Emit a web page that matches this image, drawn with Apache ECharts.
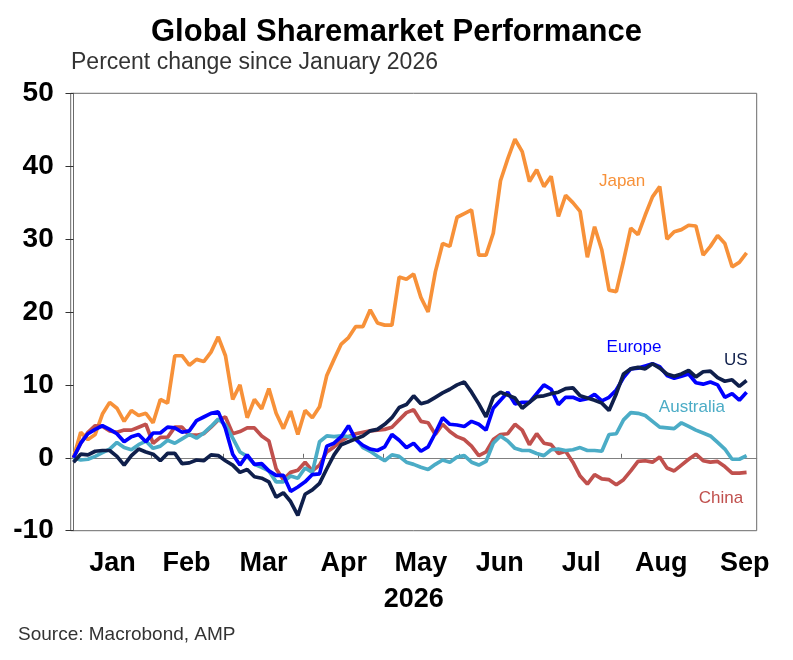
<!DOCTYPE html>
<html>
<head>
<meta charset="utf-8">
<script src="https://cdn.jsdelivr.net/npm/echarts@6/dist/echarts.min.js"></script>
<style>
  html, body { margin: 0; padding: 0; background: #fff; }
  #chart { width: 793px; height: 660px; }
</style>
</head>
<body>
<div id="chart"></div>
<script>
// trading day number since 31 Dec 2025 (sampled every second trading day)
var days = [0, 2, 4, 6, 8, 10, 12, 14, 16, 18,
  20, 22, 24, 26, 28, 30, 32, 34, 36, 38,
  40, 42, 44, 46, 48, 50, 52, 54, 56, 58,
  60, 62, 64, 66, 68, 70, 72, 74, 76, 78,
  80, 82, 84, 86, 88, 90, 92, 94, 96, 98,
  100, 102, 104, 106, 108, 110, 112, 114, 116, 118,
  120, 122, 124, 126, 128, 130, 132, 134, 136, 138,
  140, 142, 144, 146, 148, 150, 152, 154, 156, 158,
  160, 162, 164, 166, 168, 170, 172, 174, 176, 178,
  180, 182, 184, 186];

var japan = [0, 3.5, 2.5, 3.2, 6.0, 7.6, 6.8, 5.0, 6.5, 5.8,
  6.1, 4.8, 8.0, 7.5, 14.0, 14.0, 12.7, 13.5, 13.2, 14.5,
  16.6, 14.0, 8.0, 10.0, 5.5, 8.0, 6.7, 9.5, 6.1, 4.0,
  6.4, 3.2, 6.5, 5.5, 7.0, 11.3, 13.5, 15.6, 16.5, 18.0,
  18.0, 20.3, 18.5, 18.2, 18.2, 24.8, 24.5, 25.2, 22.0, 20.0,
  25.5, 29.4, 29.0, 33.0, 33.5, 34.0, 27.8, 27.8, 30.8, 38.0,
  41.0, 43.7, 42.0, 37.9, 39.5, 37.2, 38.6, 33.1, 36.0, 35.0,
  33.8, 27.5, 31.7, 28.5, 23.0, 22.8, 27.0, 31.5, 30.6, 33.3,
  35.8, 37.2, 30.0, 31.0, 31.3, 31.9, 31.8, 27.8, 29.0, 30.5,
  29.4, 26.2, 26.8, 28.1];

var us = [-0.6, 0.5, 0.4, 0.9, 1.0, 1.0, 0.2, -1.0, 0.3, 1.2,
  0.8, 0.5, -0.4, 0.6, 0.6, -0.8, -0.7, -0.3, -0.4, 0.4,
  0.3, -0.4, -1.0, -2.0, -1.6, -2.6, -2.8, -3.3, -5.4, -4.8,
  -6.0, -7.9, -5.0, -4.4, -3.5, -1.5, 0.4, 1.8, 2.2, 2.6,
  3.0, 3.7, 3.9, 4.6, 5.5, 6.9, 7.3, 8.5, 7.4, 7.7,
  8.3, 8.9, 9.4, 10.0, 10.4, 9.0, 7.4, 5.6, 8.3, 9.0,
  8.6, 8.2, 6.8, 7.6, 8.4, 8.5, 8.8, 9.0, 9.5, 9.6,
  8.5, 8.2, 7.9, 7.5, 6.5, 8.8, 11.5, 12.2, 12.4, 12.2,
  12.9, 12.3, 11.5, 11.2, 11.5, 12.0, 11.1, 11.8, 11.9, 11.0,
  10.5, 10.7, 9.8, 10.6];

var europe = [0, 2.0, 3.3, 3.9, 4.4, 3.9, 3.3, 2.2, 2.9, 3.2,
  2.2, 3.4, 3.4, 4.2, 4.1, 3.5, 3.7, 5.1, 5.6, 6.1,
  6.3, 4.0, 0.5, -1.0, 0.4, -0.9, -0.8, -1.8, -2.4, -2.4,
  -4.6, -4.0, -3.3, -2.3, -2.2, 1.6, 2.0, 2.9, 4.4, 2.5,
  1.7, 1.2, 1.0, 1.5, 3.2, 2.4, 1.4, 2.0, 0.9, 1.5,
  3.4, 5.5, 4.6, 4.5, 4.3, 5.0, 4.6, 3.8, 6.8, 7.9,
  9.0, 7.4, 7.6, 7.6, 8.8, 10.0, 9.4, 7.3, 8.3, 8.3,
  7.9, 8.1, 8.7, 7.8, 8.3, 9.3, 11.0, 12.2, 12.3, 12.6,
  12.9, 12.5, 11.3, 10.9, 11.2, 11.5, 10.3, 10.1, 10.4, 10.0,
  8.3, 8.8, 7.9, 9.0];

var australia = [0, -0.3, -0.2, 0.2, 0.7, 1.2, 2.1, 1.4, 1.1, 1.8,
  2.3, 1.3, 1.6, 2.4, 2.0, 2.6, 3.2, 2.7, 3.4, 4.3,
  5.3, 4.5, 2.7, 0.8, 0.2, -0.9, -1.3, -1.8, -3.3, -3.3,
  -2.5, -2.8, -1.4, -2.0, 2.2, 3.0, 2.9, 3.0, 2.9, 2.7,
  1.4, 0.9, 0.2, -0.4, 0.4, 0.2, -0.6, -0.9, -1.3, -1.6,
  -0.9, -0.3, -0.6, 0.1, 0.3, -0.6, -1.0, -0.5, 2.0, 3.0,
  2.3, 1.3, 1.0, 1.0, 0.6, 0.3, 1.1, 1.2, 1.0, 1.1,
  1.4, 1.0, 1.0, 0.9, 3.2, 3.3, 5.2, 6.2, 6.1, 5.8,
  5.0, 4.2, 4.1, 4.0, 4.8, 4.3, 3.8, 3.4, 3.0, 2.1,
  1.2, -0.2, -0.2, 0.3];

var china = [0, 2.0, 3.5, 4.4, 4.3, 3.7, 3.5, 3.8, 3.8, 4.2,
  4.6, 2.0, 2.8, 2.8, 4.2, 4.2, 3.1, 3.1, 3.3, 4.2,
  5.2, 5.6, 3.3, 3.6, 4.1, 4.1, 3.0, 2.3, -1.5, -3.0,
  -2.0, -1.7, -0.6, -1.8, -1.0, 0.8, 1.5, 2.3, 2.9, 3.3,
  3.5, 3.7, 3.8, 3.9, 4.2, 5.2, 6.2, 6.6, 5.0, 4.8,
  3.2, 4.6, 3.6, 2.9, 2.5, 1.6, 0.3, 0.8, 2.5, 3.2,
  3.3, 4.6, 3.8, 1.8, 3.3, 2.0, 1.8, 0.6, 0.9, -0.6,
  -2.5, -3.6, -2.3, -2.9, -3.0, -3.7, -3.0, -1.8, -0.5, -0.4,
  -0.6, 0.1, -1.4, -1.8, -1.0, -0.2, 0.5, -0.4, -0.6, -0.5,
  -1.2, -2.1, -2.1, -2.0];

// month boundaries and month label positions, in trading days
var monthTicks = [0.5, 21.5, 41.5, 63.5, 85.5, 106.5, 128.5, 151.5, 172.5];
var monthLabelPos = [10.8, 31.2, 52.5, 74.7, 96, 117.8, 140.3, 162.4, 185.5];
var monthNames = ['Jan', 'Feb', 'Mar', 'Apr', 'May', 'Jun', 'Jul', 'Aug', 'Sep'];

var FONT = '"Liberation Sans", Arial, sans-serif';

function pairs(vals) {
  return days.map(function (d, k) { return [d, vals[k]]; });
}

// series name label placed at [day, value]
function lineSeries(name, vals, color, labelAt) {
  return {
    name: name,
    type: 'line',
    data: pairs(vals),
    showSymbol: false,
    symbol: 'none',
    lineStyle: { color: color, width: 3.7 },
    itemStyle: { color: color },
    z: 3,
    markPoint: {
      silent: true,
      symbol: 'circle',
      symbolSize: 1,
      itemStyle: { color: 'rgba(0,0,0,0)' },
      label: {
        show: true,
        position: 'inside',
        color: color,
        fontFamily: FONT,
        fontSize: 17,
        formatter: name
      },
      data: [{ coord: labelAt }]
    }
  };
}

var series = [
  lineSeries('Japan', japan, '#f79139', [151.6, 37.9]),
  lineSeries('China', china, '#c0504d', [178.9, -5.6]),
  lineSeries('Australia', australia, '#4bacc6', [170.9, 6.9]),
  lineSeries('Europe', europe, '#0000ff', [154.9, 15.2]),
  lineSeries('US', us, '#0f1f4b', [183, 13.4])
];

// zero line
series[0].markLine = {
  silent: true,
  symbol: ['none', 'none'],
  label: { show: false },
  lineStyle: { color: '#808080', width: 1, type: 'solid' },
  data: [{ yAxis: 0 }],
  z: 1
};

var option = {
  animation: false,
  backgroundColor: '#fff',
  title: [{
    text: 'Global Sharemarket Performance',
    left: 'center',
    top: 12,
    textStyle: { fontFamily: FONT, fontSize: 31, fontWeight: 'bold', color: '#000' }
  }, {
    text: 'Percent change since January 2026',
    left: 66,
    top: 46,
    textStyle: { fontFamily: FONT, fontSize: 23, fontWeight: 'normal', color: '#333' }
  }, {
    text: 'Source: Macrobond, AMP',
    left: 13,
    top: 620,
    textStyle: { fontFamily: FONT, fontSize: 19, fontWeight: 'normal', color: '#333' }
  }],
  grid: {
    left: 70.7,
    right: 36.3,
    top: 93.3,
    bottom: 129.3,
    containLabel: false,
    show: true,
    borderColor: '#6a6a6a',
    borderWidth: 1
  },
  xAxis: {
    type: 'value',
    min: -0.77,
    max: 188.8,
    name: '2026',
    nameLocation: 'middle',
    nameGap: 55,
    nameTextStyle: { fontFamily: FONT, fontSize: 27, fontWeight: 'bold', color: '#000' },
    splitLine: { show: false },
    axisLine: { show: true, lineStyle: { color: '#6a6a6a', width: 1 } },
    axisTick: {
      show: true,
      inside: true,
      length: 4,
      customValues: monthTicks,
      lineStyle: { color: '#6a6a6a' }
    },
    axisLabel: {
      customValues: monthLabelPos,
      margin: 19,
      fontFamily: FONT,
      fontSize: 27,
      fontWeight: 'bold',
      color: '#000',
      formatter: function (v) {
        var best = 0;
        for (var k = 1; k < monthLabelPos.length; k++) {
          if (Math.abs(monthLabelPos[k] - v) < Math.abs(monthLabelPos[best] - v)) best = k;
        }
        return monthNames[best];
      }
    }
  },
  yAxis: {
    type: 'value',
    min: -10,
    max: 50,
    interval: 10,
    splitLine: { show: false },
    axisLine: { show: true, lineStyle: { color: '#6a6a6a', width: 1 } },
    axisTick: { show: true, length: 8, lineStyle: { color: '#333' } },
    axisLabel: {
      margin: 17,
      fontFamily: FONT,
      fontSize: 28,
      fontWeight: 'bold',
      color: '#000'
    }
  },
  series: series
};

var myChart = echarts.init(document.getElementById('chart'));
myChart.setOption(option);
</script>
</body>
</html>
